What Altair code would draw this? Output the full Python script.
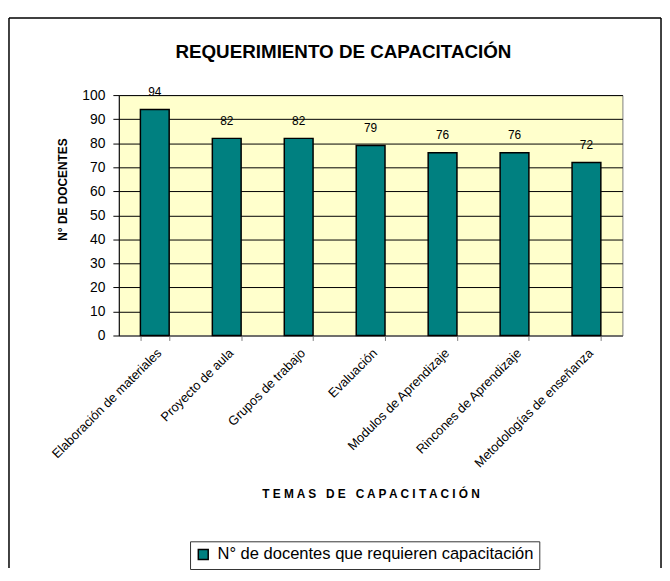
import altair as alt
import pandas as pd

categories = [
    "Elaboración de materiales",
    "Proyecto de aula",
    "Grupos de trabajo",
    "Evaluación",
    "Modulos de Aprendizaje",
    "Rincones de Aprendizaje",
    "Metodologías de enseñanza",
]
values = [94, 82, 82, 79, 76, 76, 72]
series_name = "N° de docentes que requieren capacitación"
y_ticks = [0, 10, 20, 30, 40, 50, 60, 70, 80, 90, 100]
chart_title = "REQUERIMIENTO DE CAPACITACIÓN"

df = pd.DataFrame({"tema": categories, "docentes": values, "serie": [series_name] * len(values)})

FONT = "Liberation Sans"
W, H = 509, 243

x_enc = alt.X(
    "tema:N",
    sort=None,
    scale=alt.Scale(paddingInner=0.6, paddingOuter=0.3),
    axis=alt.Axis(
        title="T E M A S\u00a0\u00a0\u00a0D E\u00a0\u00a0\u00a0C A P A C I T A C I Ó N",
        titleFont=FONT, titleFontSize=12, titleFontWeight="bold", titleColor="black",
        titleY=160, titleBaseline="middle",
        labelAngle=-45, labelFont=FONT, labelFontSize=13, labelColor="black",
        labelPadding=6,
        domainColor="#808080", tickColor="#808080", tickSize=5, tickBand="extent",
        grid=False,
    ),
)

y_enc = alt.Y(
    "docentes:Q",
    scale=alt.Scale(domain=[0, 100], nice=False),
    axis=alt.Axis(
        title="N° DE DOCENTES",
        titleFont=FONT, titleFontSize=12, titleFontWeight="bold", titleColor="black",
        titleX=-57, titleY=95, titleBaseline="middle", titleAngle=-90,
        values=y_ticks, labelFont=FONT, labelFontSize=14, labelColor="black",
        labelPadding=8, tickSize=6, tickColor="black", domainColor="black",
        labelOverlap=False,
        grid=True, gridColor="black", gridWidth=1,
    ),
)

base = alt.Chart(df)

bars = base.mark_bar(stroke="black", strokeWidth=1.5).encode(
    x=x_enc,
    y=y_enc,
    color=alt.Color(
        "serie:N",
        scale=alt.Scale(range=["#008080"]),
        legend=alt.Legend(
            title=None, orient="none", legendX=72, legendY=451,
            symbolType="square", symbolSize=100, symbolStrokeColor="black",
            symbolStrokeWidth=1.5, symbolOpacity=1,
            labelFont=FONT, labelFontSize=16.7, labelColor="black", labelLimit=500,
            labelOffset=6, strokeColor="#333333", padding=5,
        ),
    ),
)

labels = base.mark_text(font=FONT, fontSize=12, color="black", baseline="bottom", dy=-11).encode(
    x=x_enc,
    y=y_enc,
    text="docentes:Q",
)

one = pd.DataFrame({"k": [0]})
title_mark = alt.Chart(one).mark_text(
    font=FONT, fontSize=19, fontWeight="bold", color="black", align="center", baseline="alphabetic"
).encode(x=alt.value(227), y=alt.value(-37), text=alt.value(chart_title))

frame_left = alt.Chart(one).mark_rule(color="black", strokeWidth=1.5).encode(
    x=alt.value(-111), y=alt.value(-78), y2=alt.value(478)
)
frame_top = alt.Chart(one).mark_rule(color="black", strokeWidth=1.5).encode(
    x=alt.value(-111), x2=alt.value(548), y=alt.value(-78)
)
frame_right = alt.Chart(one).mark_rule(color="black", strokeWidth=1.5).encode(
    x=alt.value(548), y=alt.value(-78), y2=alt.value(478)
)

chart = (
    alt.layer(bars, labels, title_mark, frame_left, frame_top, frame_right)
    .properties(
        width=W,
        height=H,
        padding={"left": 0, "top": 6, "right": 0, "bottom": 0},
        background="white",
    )
    .configure_view(fill="#FFFFCC", stroke="#808080", strokeWidth=1)
)

chart.save("out.html", embed_options={"renderer": "svg", "actions": False})
